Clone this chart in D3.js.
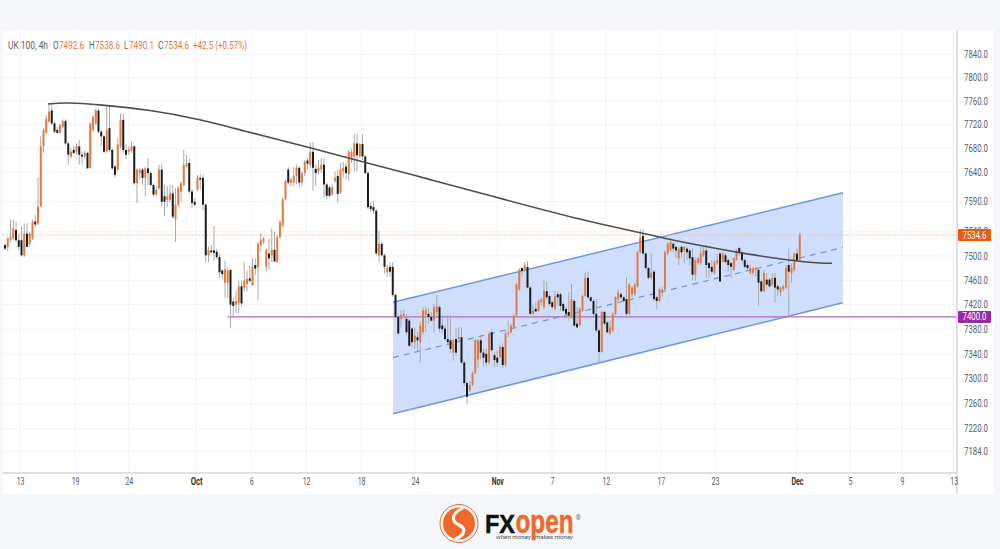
<html>
    <head>
        <title>UK 100, 4h</title>
        <style>
            body { margin: 0; background: #f6f7fa; }
            svg { display: block; }
            text { font-family: Roboto, "Noto Sans", Arial, sans-serif; }
            .axis text { font-size: 10px; fill: #5a5e66; }
            .axis path { stroke: #d4d6dc; stroke-width: 1.5; }
            .axis line { stroke: none; }
            .grid line { stroke: #f1f3f8; stroke-width: 1; }
        </style>
    </head>
    <body>
        <svg class="chart" width="1000" height="549"></svg>
        <script src="https://d3js.org/d3.v7.min.js"></script>
        <script>
            // 4h bars, one value per bar
            var opens = [
              7518,7515,7526,7529,7543,7526,7526,7501,7537,7520,
              7529,7557,7554,7582,7683,7706,7725,7744,7722,7711,
              7706,7716,7726,7688,7666,7677,7674,7683,7669,7666,
              7672,7646,7711,7722,7744,7708,7700,7674,7714,7677,
              7649,7644,7683,7728,7677,7674,7676,7683,7621,7638,
              7644,7630,7646,7638,7618,7602,7613,7644,7599,7593,
              7593,7604,7560,7585,7607,7618,7649,7655,7607,7590,
              7610,7630,7630,7585,7501,7509,7509,7507,7498,7476,
              7456,7456,7477,7425,7420,7422,7450,7448,7454,7463,
              7452,7485,7482,7518,7523,7482,7504,7501,7510,7490,
              7531,7551,7594,7644,7622,7622,7633,7647,7622,7638,
              7659,7652,7674,7645,7641,7644,7652,7619,7614,7603,
              7625,7633,7605,7641,7649,7636,7663,7666,7688,7666,
              7687,7666,7638,7583,7581,7575,7501,7520,7501,7473,
              7482,7482,7436,7400,7397,7402,7397,7394,7381,7359,
              7367,7359,7375,7403,7405,7400,7394,7408,7416,7386,
              7381,7364,7362,7342,7364,7364,7367,7326,7293,7282,
              7290,7309,7331,7362,7342,7340,7326,7375,7338,7334,
              7335,7351,7322,7373,7375,7383,7402,7445,7480,7477,
              7482,7448,7405,7413,7410,7424,7416,7442,7434,7424,
              7413,7437,7437,7421,7413,7408,7400,7426,7389,7386,
              7410,7434,7464,7432,7426,7405,7378,7343,7408,7391,
              7373,7378,7405,7429,7437,7432,7429,7405,7437,7437,
              7450,7506,7533,7504,7480,7464,7474,7432,7426,7440,
              7445,7504,7509,7520,7515,7496,7515,7509,7512,7509,
              7498,7469,7488,7488,7501,7509,7488,7482,7472,7488,
              7504,7490,7501,7493,7488,7477,7493,7513,7506,7493,
              7485,7472,7472,7477,7477,7458,7442,7461,7461,7453,
              7464,7450,7440,7445,7448,7485,7472,7477,7504,7492.6
            ];
            var highs = [
              7520,7529,7560,7560,7557,7537,7548,7554,7554,7540,
              7560,7568,7630,7700,7714,7736,7756,7756,7725,7716,
              7722,7729,7729,7691,7680,7683,7688,7694,7674,7676,
              7674,7723,7736,7747,7747,7711,7702,7753,7753,7680,
              7652,7697,7739,7739,7686,7683,7691,7686,7646,7646,
              7646,7649,7663,7641,7621,7616,7652,7652,7618,7616,
              7618,7618,7613,7616,7624,7677,7669,7663,7610,7596,
              7635,7636,7635,7588,7515,7518,7550,7512,7504,7478,
              7492,7481,7478,7431,7442,7459,7459,7490,7476,7485,
              7496,7496,7523,7537,7531,7512,7529,7545,7540,7534,
              7559,7597,7627,7648,7630,7649,7652,7649,7641,7660,
              7663,7690,7690,7652,7660,7663,7663,7622,7616,7619,
              7641,7644,7655,7657,7655,7677,7679,7704,7704,7689,
              7704,7668,7641,7589,7592,7578,7542,7523,7504,7485,
              7490,7490,7438,7403,7411,7411,7405,7397,7383,7383,
              7375,7392,7416,7416,7414,7408,7422,7436,7419,7403,
              7386,7403,7403,7364,7381,7383,7383,7329,7296,7296,
              7312,7364,7364,7367,7348,7348,7376,7381,7343,7346,
              7354,7357,7378,7394,7389,7405,7456,7480,7482,7490,
              7492,7450,7421,7424,7429,7432,7460,7458,7437,7426,
              7442,7442,7440,7424,7416,7440,7454,7429,7416,7416,
              7437,7474,7474,7434,7429,7429,7381,7410,7410,7394,
              7394,7408,7434,7445,7440,7434,7465,7456,7450,7456,
              7509,7544,7544,7506,7482,7504,7477,7434,7448,7450,
              7509,7523,7525,7523,7517,7515,7517,7517,7515,7512,
              7512,7496,7498,7515,7515,7518,7490,7493,7493,7504,
              7506,7506,7504,7496,7490,7498,7512,7515,7509,7496,
              7488,7485,7482,7482,7480,7461,7477,7472,7464,7472,
              7472,7453,7450,7453,7485,7512,7488,7506,7512,7538.6
            ];
            var lows = [
              7509,7508,7523,7526,7523,7509,7499,7498,7515,7515,
              7526,7548,7551,7581,7672,7705,7722,7719,7705,7705,
              7705,7714,7686,7652,7663,7669,7669,7652,7652,7663,
              7646,7646,7708,7719,7705,7683,7672,7672,7674,7644,
              7631,7641,7680,7672,7662,7669,7672,7618,7588,7627,
              7618,7599,7618,7616,7600,7600,7610,7582,7566,7582,
              7588,7562,7523,7582,7590,7616,7646,7604,7579,7582,
              7607,7610,7576,7490,7490,7504,7492,7495,7464,7462,
              7431,7431,7383,7400,7406,7406,7417,7442,7442,7457,
              7450,7468,7427,7507,7520,7474,7477,7490,7490,7489,
              7529,7548,7592,7619,7616,7616,7619,7614,7616,7633,
              7644,7647,7608,7616,7636,7638,7597,7594,7597,7600,
              7622,7589,7603,7630,7627,7625,7655,7641,7641,7663,
              7660,7636,7578,7573,7570,7501,7490,7499,7471,7466,
              7466,7433,7397,7371,7383,7397,7370,7351,7351,7348,
              7345,7326,7370,7375,7389,7392,7375,7403,7375,7373,
              7362,7353,7342,7329,7337,7359,7323,7288,7260,7279,
              7288,7307,7318,7331,7320,7320,7323,7343,7319,7319,
              7333,7317,7319,7367,7373,7381,7400,7442,7466,7474,
              7447,7404,7404,7408,7408,7418,7413,7429,7418,7413,
              7410,7418,7410,7408,7397,7394,7397,7383,7382,7385,
              7408,7432,7429,7424,7402,7375,7327,7342,7386,7373,
              7370,7375,7402,7426,7429,7424,7397,7402,7432,7434,
              7448,7504,7501,7477,7461,7461,7426,7413,7424,7432,
              7442,7501,7506,7506,7496,7485,7496,7488,7493,7485,
              7459,7458,7485,7485,7498,7464,7464,7469,7469,7485,
              7457,7488,7488,7474,7464,7474,7492,7501,7490,7480,
              7477,7469,7468,7466,7418,7440,7440,7450,7448,7450,
              7424,7434,7434,7442,7445,7402,7456,7474,7490,7490.1
            ];
            var closes = [
              7512,7529,7532,7546,7526,7515,7501,7537,7515,7537,
              7557,7552,7582,7683,7711,7730,7742,7722,7708,7706,
              7719,7726,7688,7669,7674,7672,7683,7669,7666,7672,
              7646,7722,7733,7744,7708,7700,7674,7711,7677,7646,
              7635,7686,7728,7677,7669,7678,7683,7621,7644,7644,
              7630,7646,7638,7618,7602,7610,7644,7590,7590,7599,
              7604,7565,7585,7613,7621,7652,7654,7607,7588,7585,
              7630,7627,7585,7501,7510,7506,7505,7498,7473,7470,
              7478,7476,7420,7418,7426,7450,7422,7459,7462,7459,
              7482,7479,7520,7526,7529,7510,7496,7510,7491,7531,
              7556,7594,7625,7622,7627,7633,7647,7622,7638,7657,
              7654,7674,7647,7638,7647,7652,7619,7600,7600,7614,
              7630,7603,7644,7647,7638,7674,7674,7688,7668,7687,
              7666,7638,7581,7578,7575,7504,7520,7501,7482,7481,
              7474,7436,7400,7373,7403,7405,7375,7353,7359,7370,
              7362,7386,7411,7411,7400,7394,7416,7417,7381,7380,
              7364,7359,7348,7362,7342,7367,7326,7293,7271,7290,
              7309,7362,7362,7342,7334,7326,7372,7346,7330,7326,
              7351,7322,7373,7375,7386,7402,7453,7477,7475,7485,
              7448,7405,7410,7409,7426,7429,7442,7432,7421,7416,
              7434,7432,7418,7410,7405,7402,7429,7386,7383,7413,
              7434,7464,7432,7426,7405,7378,7343,7408,7389,7375,
              7383,7405,7432,7440,7432,7426,7405,7453,7448,7453,
              7506,7531,7504,7480,7464,7472,7429,7426,7445,7445,
              7506,7520,7523,7512,7509,7512,7506,7515,7506,7496,
              7469,7493,7496,7504,7509,7485,7480,7474,7490,7493,
              7458,7504,7490,7485,7482,7496,7509,7506,7493,7482,
              7480,7480,7480,7480,7456,7442,7472,7453,7450,7464,
              7448,7445,7448,7450,7480,7474,7480,7504,7493,7534.6
            ];

            // price axis
            var priceTicks = [7840,7800,7760,7720,7680,7640,7590,7540,7500,7460,7420,7380,7340,7300,7260,7220,7184];
            // time axis, in bar numbers
            var timeTicks = [5.5,25.5,45,69.5,89.5,109.5,129.5,149.1,179,198.9,218.5,238.5,258.2,288,307.3,326.2,345];
            var timeLabels = ['13','19','24','Oct','6','12','18','24','Nov','7','12','17','23','Dec','5','9','13'];

            // drawings on the chart
            var lastPrice = 7534.6;
            var levelPrice = 7400;
            var levelStartBar = 81;
            var channelBars = [141.1, 304.7];
            var channelTop = [7424, 7605];
            var channelMid = [7334, 7514];
            var channelBottom = [7244, 7423];
            var curveBars = [15.6,21.8,34.5,52.7,70.9,85.5,111.6,131.6,154.5,176.4,211.6,230.9,238.2,255.3,267.3,284.4,296.4,300.7];
            var curvePrices = [7755,7758,7754,7745,7729,7711,7680,7655,7627.5,7600,7557,7539,7530.5,7515,7505,7493,7488,7488];

            var legendTexts = ['UK 100, 4h','O','7492.6','H','7538.6','L','7490.1','C','7534.6','+42.5 (+0.57%)'];
            var legendIsValue = [false,false,true,false,true,false,true,false,true,true];

            // legend text starts and widths
            var legendX = [8,53,59,89,95,124,129,158,164,193];
            var legendW = [40,5.5,25,5.5,25,4,25,5.5,25,54];

            var up = '#e9793a', down = '#1d1d1d', wick = '#a9a9a9';
            var plotLeft = 3, plotRight = 957, plotTop = 30, plotBottom = 473;

            var x = d3.scaleLinear().domain([0, 345]).range([5, 953.75]);
            var y = d3.scaleLog().domain([7184, 7840]).range([451.5, 54.5]);

            var svg = d3.select('svg');

            // panel
            svg.append('rect').attr('x', plotLeft).attr('y', plotTop)
              .attr('width', 991).attr('height', 464).attr('fill', '#fff');

            // grid
            var gridG = svg.append('g').attr('class', 'grid');
            gridG.selectAll('.h').data(priceTicks).enter().append('line')
              .attr('x1', plotLeft).attr('x2', plotRight)
              .attr('y1', function(d) { return y(d); }).attr('y2', function(d) { return y(d); });
            gridG.selectAll('.v').data(timeTicks).enter().append('line')
              .attr('x1', function(d) { return x(d); }).attr('x2', function(d) { return x(d); })
              .attr('y1', plotTop).attr('y2', plotBottom);

            // channel
            var lineX = function(d, i) { return x(channelBars[i]); };
            var lineY = function(d) { return y(d); };
            var channelLine = d3.line().x(lineX).y(lineY);
            var channelArea = d3.area().x(lineX).y0(function(d) { return y(d[0]); }).y1(function(d) { return y(d[1]); });
            svg.append('path')
              .attr('d', channelArea(channelTop.map(function(d, i) { return [channelBottom[i], d]; })))
              .attr('fill', '#cfdefc');
            svg.append('path').attr('d', channelLine(channelTop))
              .attr('fill', 'none').attr('stroke', '#6d97e3').attr('stroke-width', 1.5);
            svg.append('path').attr('d', channelLine(channelBottom))
              .attr('fill', 'none').attr('stroke', '#6d97e3').attr('stroke-width', 1.5);
            svg.append('path').attr('d', channelLine(channelMid))
              .attr('fill', 'none').attr('stroke', '#6d97e3').attr('stroke-width', 1.2).attr('stroke-dasharray', '6 5');

            // price lines
            svg.append('line').attr('x1', plotLeft).attr('x2', plotRight)
              .attr('y1', y(lastPrice)).attr('y2', y(lastPrice))
              .attr('stroke', '#f7c3a3').attr('stroke-dasharray', '2 1');
            svg.append('line').attr('x1', x(levelStartBar)).attr('x2', plotRight)
              .attr('y1', y(levelPrice)).attr('y2', y(levelPrice))
              .attr('stroke', '#b566c9').attr('stroke-width', 1.2);

            // candles
            var bars = d3.range(opens.length);
            var candleG = svg.append('g');
            candleG.selectAll('.wick').data(bars).enter().append('line')
              .attr('x1', function(i) { return x(i); }).attr('x2', function(i) { return x(i); })
              .attr('y1', function(i) { return y(highs[i]); }).attr('y2', function(i) { return y(lows[i]); })
              .attr('stroke', wick).attr('stroke-width', 1);
            candleG.selectAll('.body').data(bars).enter().append('rect')
              .attr('x', function(i) { return x(i) - 1; })
              .attr('width', 2)
              .attr('y', function(i) { return y(Math.max(opens[i], closes[i])); })
              .attr('height', function(i) { return Math.max(1, Math.abs(y(opens[i]) - y(closes[i]))); })
              .attr('fill', function(i) { return closes[i] >= opens[i] ? up : down; });

            // long curve
            var curve = d3.line()
              .x(function(d) { return x(d); })
              .y(function(d, i) { return y(curvePrices[i]); })
              .curve(d3.curveBasis);
            svg.append('path').attr('d', curve(curveBars))
              .attr('fill', 'none').attr('stroke', '#4e4e4e').attr('stroke-width', 1.6);

            // axes
            var yAxis = d3.axisRight(y).tickValues(priceTicks).tickSize(0).tickPadding(7)
              .tickFormat(function(d) { return d.toFixed(1); });
            var yG = svg.append('g').attr('class', 'axis').attr('transform', 'translate(' + plotRight + ',0)').call(yAxis);
            yG.select('.domain').attr('d', 'M0,' + plotTop + 'V494');
            yG.selectAll('text').attr('textLength', 24).attr('lengthAdjust', 'spacingAndGlyphs');

            var xAxis = d3.axisBottom(x).tickValues(timeTicks).tickSize(0).tickPadding(5)
              .tickFormat(function(d, i) { return timeLabels[i]; });
            var xG = svg.append('g').attr('class', 'axis').attr('transform', 'translate(0,' + plotBottom + ')').call(xAxis);
            xG.select('.domain').attr('d', 'M' + plotLeft + ',0H' + plotRight);
            xG.selectAll('text').style('font-weight', function(d, i) {
              return isNaN(+timeLabels[i]) ? 'bold' : 'normal';
            }).style('fill', function(d, i) {
              return isNaN(+timeLabels[i]) ? '#333' : '#5a5e66';
            }).attr('textLength', function(d, i) {
              return timeLabels[i].length * 4;
            }).attr('lengthAdjust', 'spacingAndGlyphs');

            // price labels
            var priceLabels = [[lastPrice, '#e85d0c'], [levelPrice, '#9c27a8']];
            var labelG = svg.append('g').selectAll('g').data(priceLabels).enter().append('g');
            labelG.append('rect').attr('x', 958).attr('width', 33).attr('height', 12).attr('rx', 1)
              .attr('y', function(d) { return y(d[0]) - 6; })
              .attr('fill', function(d) { return d[1]; });
            labelG.append('text').attr('x', 974.5).attr('text-anchor', 'middle')
              .attr('y', function(d) { return y(d[0]) + 3.5; })
              .attr('font-size', 10).attr('fill', '#fff')
              .attr('textLength', 24).attr('lengthAdjust', 'spacingAndGlyphs')
              .text(function(d) { return d[0].toFixed(1); });

            // legend
            svg.append('g').selectAll('text').data(legendTexts).enter().append('text')
              .attr('x', function(d, i) { return legendX[i]; }).attr('y', 48.5)
              .attr('font-size', 10)
              .attr('fill', function(d, i) { return legendIsValue[i] ? '#e8763a' : '#5a5e66'; })
              .attr('textLength', function(d, i) { return legendW[i]; })
              .attr('lengthAdjust', 'spacingAndGlyphs')
              .text(function(d) { return d; });

            // logo
            var logo = svg.append('g');
            logo.append('circle').attr('cx', 459).attr('cy', 523.5).attr('r', 19)
              .attr('fill', 'none').attr('stroke', '#f0682a').attr('stroke-width', 1);
            logo.append('circle').attr('cx', 459).attr('cy', 523.5).attr('r', 16).attr('fill', '#f0682a');
            logo.append('path').attr('d', 'M463,508 C450,514 452,522 459,525 C466,528 466,535 455,539')
              .attr('fill', 'none').attr('stroke', '#fff').attr('stroke-width', 3);
            logo.append('text').attr('x', 485).attr('y', 533).attr('font-size', 26).attr('font-weight', 'bold')
              .style('font-family', '"Liberation Sans", Arial, sans-serif')
              .attr('stroke', '#111').attr('stroke-width', 0.5)
              .attr('fill', '#111').attr('textLength', 30).attr('lengthAdjust', 'spacingAndGlyphs').text('FX');
            logo.append('text').attr('x', 515.5).attr('y', 533).attr('font-size', 33).attr('font-weight', 'bold')
              .style('font-family', '"Liberation Sans", Arial, sans-serif')
              .attr('stroke', '#f0682a').attr('stroke-width', 0.5)
              .attr('fill', '#f0682a').attr('textLength', 58).attr('lengthAdjust', 'spacingAndGlyphs').text('open');
            logo.append('text').attr('x', 575.5).attr('y', 520).attr('font-size', 7).attr('fill', '#777').text('®');
            logo.append('text').attr('x', 496).attr('y', 539).attr('font-size', 5).attr('fill', '#555')
              .attr('textLength', 35).attr('lengthAdjust', 'spacingAndGlyphs').text('when money');
            logo.append('text').attr('x', 535).attr('y', 539).attr('font-size', 5).attr('fill', '#555')
              .attr('textLength', 38).attr('lengthAdjust', 'spacingAndGlyphs').text('makes money');
        </script>
    </body>
</html>
